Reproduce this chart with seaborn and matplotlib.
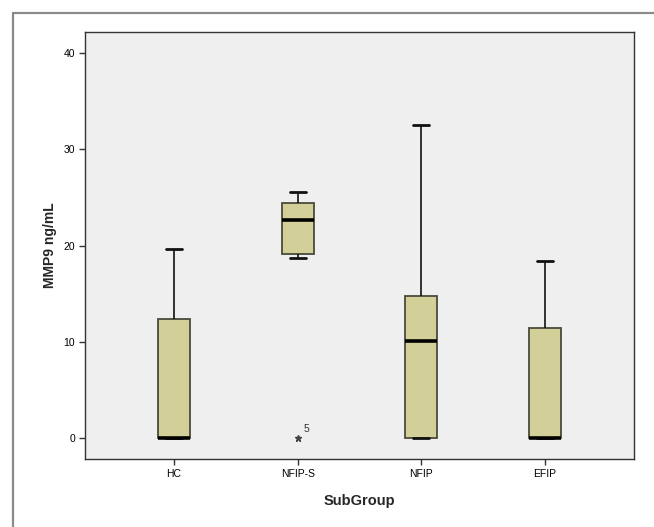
import matplotlib
matplotlib.use("Agg")
import matplotlib.pyplot as plt
from matplotlib.lines import Line2D
import numpy as np
import pandas as pd
import seaborn as sns

# Values (five-number style summaries per group)
categories = ["HC", "NFIP-S", "NFIP", "EFIP"]
hc_values = [0.0, 0.0, 0.0, 12.4, 19.6]
nfips_values = [0.0, 18.7, 19.1, 20.0, 22.6, 23.5, 24.4, 25.0, 25.6]
nfip_values = [0.0, 0.0, 10.1, 14.7, 32.5]
efip_values = [0.0, 0.0, 0.0, 11.4, 18.4]
yticks = [0, 10, 20, 30, 40]
outlier_label = "5"

groups = {"HC": hc_values, "NFIP-S": nfips_values, "NFIP": nfip_values, "EFIP": efip_values}
df = pd.DataFrame(
    [(g, v) for g in categories for v in groups[g]], columns=["SubGroup", "MMP9"]
)

sns.set_theme(style="white")
plt.rcParams["font.family"] = ["Liberation Sans", "DejaVu Sans"]

W, H = 654, 527
fig = plt.figure(figsize=(W / 100, H / 100), dpi=100)
fig.patch.set_facecolor("white")
ax = fig.add_axes([85 / W, 1 - 459 / H, (634 - 85) / W, (459 - 32) / H])
ax.set_facecolor("#efefef")

sns.boxplot(
    data=df, x="SubGroup", y="MMP9", order=categories, ax=ax,
    width=0.26, color="#d3cf99", saturation=1, linecolor="#4a4a3c", linewidth=1.3,
    whis=1.5, fliersize=5,
    flierprops={"marker": "*", "markerfacecolor": "#444444", "markeredgecolor": "#444444"},
    medianprops={"color": "black", "linewidth": 2.6},
    whiskerprops={"color": "#111111", "linewidth": 1.2},
    capprops={"color": "#111111", "linewidth": 2.0},
)

# outlier case number label
ax.text(1 + 0.05, 0.35, outlier_label, fontsize=7.5, color="#333333", ha="left", va="bottom")

ax.set_xlim(-0.72, 3.72)
ax.set_ylim(-2.2, 42.2)
ax.set_yticks(yticks)
ax.set_yticklabels([str(t) for t in yticks])
ax.tick_params(axis="both", direction="out", length=4, width=1, colors="#333333",
               labelsize=7.5, labelcolor="black", left=True, bottom=True, pad=3)
for s in ax.spines.values():
    s.set_color("#333333")
    s.set_linewidth(1.0)

ax.set_xlabel("SubGroup", fontsize=10.5, fontweight="bold", labelpad=11)
ax.set_ylabel("MMP9 ng/mL", fontsize=10, fontweight="bold", labelpad=5)

# outer frame (left and top edges visible)
fig.add_artist(Line2D([12.5 / W, 12.5 / W], [0, 1 - 12.5 / H], transform=fig.transFigure,
                      color="#8a8a8a", linewidth=1.6))
fig.add_artist(Line2D([12.5 / W, 1], [1 - 12.5 / H, 1 - 12.5 / H], transform=fig.transFigure,
                      color="#8a8a8a", linewidth=1.6))

fig.savefig("out.png", dpi=100, facecolor="white")
